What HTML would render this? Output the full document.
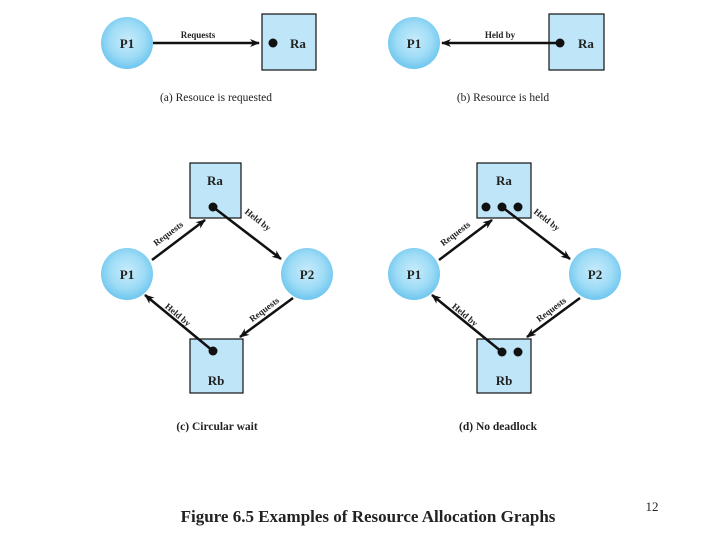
<!DOCTYPE html>
<html><head><meta charset="utf-8"><style>
html,body{margin:0;padding:0;background:#fff;}
svg{display:block;}
text{font-family:"Liberation Serif",serif;font-weight:bold;fill:#222;}
</style></head><body>
<svg width="720" height="540" viewBox="0 0 720 540" xmlns="http://www.w3.org/2000/svg">
<defs>
<radialGradient id="g" cx="0.5" cy="0.45" r="0.55">
<stop offset="0" stop-color="#c8ecfb"/><stop offset="0.6" stop-color="#9fdcf6"/><stop offset="1" stop-color="#6ec6ef"/>
</radialGradient>
<marker id="ah" markerWidth="10" markerHeight="8" refX="9" refY="4" orient="auto" markerUnits="userSpaceOnUse">
<path d="M0,0 L10,4 L0,8 L3,4 Z" fill="#111"/></marker>
</defs>
<g stroke="#111" stroke-width="1.2">
<!-- (a) -->
<rect x="262" y="14" width="54" height="56" fill="#bfe6f8"/>
<!-- (b) -->
<rect x="549" y="14" width="55" height="56" fill="#bfe6f8"/>
<!-- (c) -->
<rect x="190" y="163" width="51" height="55" fill="#bfe6f8"/>
<rect x="190" y="339" width="53" height="54" fill="#bfe6f8"/>
<!-- (d) -->
<rect x="477" y="163" width="54" height="55" fill="#bfe6f8"/>
<rect x="477" y="339" width="54" height="54" fill="#bfe6f8"/>
</g>
<g fill="url(#g)">
<circle cx="127" cy="43" r="26"/><circle cx="414" cy="43" r="26"/>
<circle cx="127" cy="274" r="26"/><circle cx="307" cy="274" r="26"/>
<circle cx="414" cy="274" r="26"/><circle cx="595" cy="274" r="26"/>
</g>
<g stroke="#111" stroke-width="2.5" fill="none" marker-end="url(#ah)">
<line x1="153" y1="43" x2="259" y2="43"/>
<line x1="560" y1="43" x2="442" y2="43"/>
<line x1="152" y1="260" x2="205" y2="220"/>
<line x1="213" y1="207" x2="281" y2="259"/>
<line x1="293" y1="298" x2="240" y2="337"/>
<line x1="213" y1="351" x2="145" y2="295"/>
<line x1="439" y1="260" x2="492" y2="220"/>
<line x1="502" y1="207" x2="570" y2="259"/>
<line x1="580" y1="298" x2="527" y2="337"/>
<line x1="502" y1="352" x2="432" y2="295"/>
</g>
<g fill="#111">
<circle cx="273" cy="43" r="4.5"/><circle cx="560" cy="43" r="4.5"/>
<circle cx="213" cy="207" r="4.5"/><circle cx="213" cy="351" r="4.5"/>
<circle cx="486" cy="207" r="4.5"/><circle cx="502" cy="207" r="4.5"/><circle cx="518" cy="207" r="4.5"/>
<circle cx="502" cy="352" r="4.5"/><circle cx="518" cy="352" r="4.5"/>
</g>
<g font-size="13" text-anchor="middle">
<text x="127" y="48">P1</text><text x="414" y="48">P1</text>
<text x="298" y="48">Ra</text><text x="586" y="48">Ra</text>
<text x="127" y="279">P1</text><text x="307" y="279">P2</text>
<text x="414" y="279">P1</text><text x="595" y="279">P2</text>
<text x="215" y="185">Ra</text><text x="216" y="385">Rb</text>
<text x="504" y="185">Ra</text><text x="504" y="385">Rb</text>
</g>
<g font-size="9" text-anchor="middle">
<text x="198" y="38">Requests</text>
<text x="500" y="38">Held by</text>
<text transform="translate(170,236) rotate(-37)">Requests</text>
<text transform="translate(256,222) rotate(38)">Held by</text>
<text transform="translate(266,312) rotate(-37)">Requests</text>
<text transform="translate(176,317) rotate(40)">Held by</text>
<text transform="translate(457,236) rotate(-37)">Requests</text>
<text transform="translate(545,222) rotate(38)">Held by</text>
<text transform="translate(553,312) rotate(-37)">Requests</text>
<text transform="translate(463,317) rotate(40)">Held by</text>
</g>
<g font-size="11.5" text-anchor="middle" font-weight="normal">
<text x="216" y="101" style="font-weight:normal">(a) Resouce is requested</text>
<text x="503" y="101" style="font-weight:normal">(b) Resource is held</text>
<text x="217" y="430">(c) Circular wait</text>
<text x="498" y="430">(d) No deadlock</text>
</g>
<text x="368" y="522" font-size="17" text-anchor="middle">Figure 6.5   Examples of Resource Allocation Graphs</text>
<text x="652" y="511" font-size="13" text-anchor="middle" style="font-weight:normal">12</text>
</svg>
</body></html>
